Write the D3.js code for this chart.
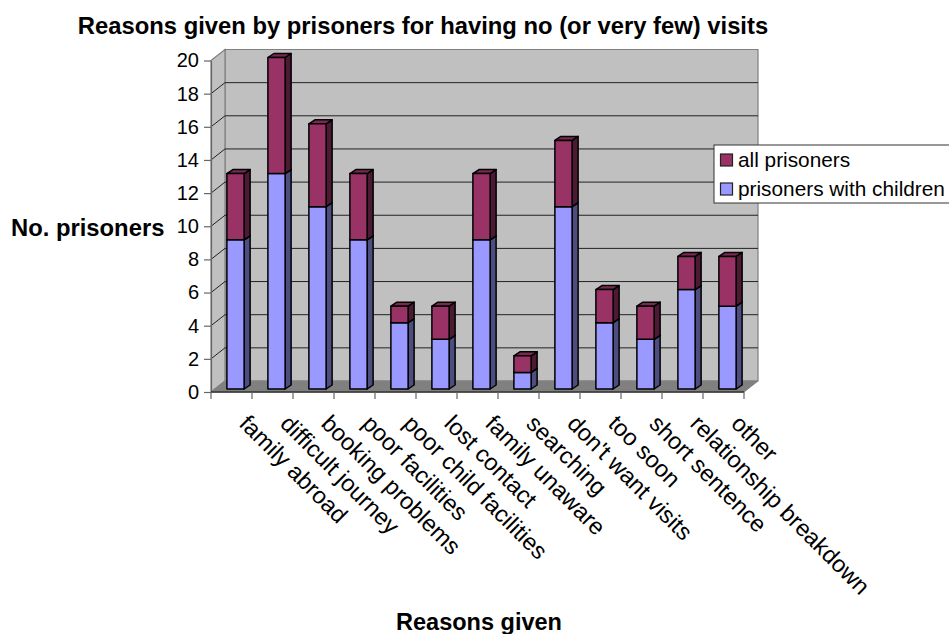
<!DOCTYPE html>
<html lang="en">
<head>
<meta charset="utf-8">
<title>Reasons given by prisoners</title>
<style>
html, body { margin: 0; background: #fff; }
svg { display: block; font-family: "Liberation Sans", Arial, sans-serif; }
text { fill: #000; }
</style>
</head>
<body>
<div id="app"></div>
<script src="https://d3js.org/d3.v7.min.js"></script>
<script>
const categories = ["family abroad", "difficult journey", "booking problems", "poor facilities",
  "poor child facilities", "lost contact", "family unaware", "searching", "don't want visits",
  "too soon", "short sentence", "relationship breakdown", "other"];
const withChildren = [9, 13, 11, 9, 4, 3, 9, 1, 11, 4, 3, 6, 5];
const allPrisoners = [4, 7, 5, 4, 1, 2, 4, 1, 4, 2, 2, 2, 3];
const yTicks = d3.range(0, 21, 2);

const width = 949, height = 634;
const wall = {dx: 14, dy: -11};   // depth of the side wall
const bar = {dx: 6, dy: -4};      // depth of each bar
const barShift = {dx: 4, dy: -3}; // bars stand slightly into the floor

const x = d3.scaleBand().domain(categories).range([211, 744]).paddingInner(0.58).paddingOuter(0.29);
const y = d3.scaleLinear().domain([0, 20]).range([392, 60.5]);
const xTicks = d3.scaleBand().domain(categories).range([211, 744]);

const rows = categories.map((name, i) => ({name, children: withChildren[i], all: allPrisoners[i]}));
const series = d3.stack().keys(["children", "all"])(rows);
const colors = {
  children: {front: "#9999ff", side: "#4d4d80", top: "#7a7acc"},
  all: {front: "#993366", side: "#4d1a33", top: "#7a2952"}
};

const svg = d3.select("#app").append("svg").attr("width", width).attr("height", height);
const x0 = 211, x1 = 744;
const poly = pts => pts.map(p => p.join(",")).join(" ");

// walls and floor
const walls = svg.append("g");
walls.append("polygon")
  .attr("points", poly([[x0 + wall.dx, y(20) + wall.dy], [x1 + wall.dx, y(20) + wall.dy], [x1 + wall.dx, y(0) + wall.dy], [x0 + wall.dx, y(0) + wall.dy]]))
  .attr("fill", "#c0c0c0").attr("stroke", "#808080").attr("stroke-width", 1.2);
walls.append("polygon")
  .attr("points", poly([[x0, y(20)], [x0 + wall.dx, y(20) + wall.dy], [x0 + wall.dx, y(0) + wall.dy], [x0, y(0)]]))
  .attr("fill", "#c0c0c0").attr("stroke", "#808080").attr("stroke-width", 1.2);
walls.append("polygon")
  .attr("points", poly([[x0, y(0)], [x0 + wall.dx, y(0) + wall.dy], [x1 + wall.dx, y(0) + wall.dy], [x1, y(0)]]))
  .attr("fill", "#808080").attr("stroke", "#808080");

// grid lines on both walls
const grid = svg.append("g").attr("stroke", "#222").attr("stroke-width", 1).attr("fill", "none");
yTicks.filter(d => d > 0 && d < 20).forEach(d => {
  grid.append("polyline")
    .attr("points", poly([[x0, y(d)], [x0 + wall.dx, y(d) + wall.dy], [x1 + wall.dx, y(d) + wall.dy]]));
});

// axes
const yAxis = d3.axisLeft(y).tickValues(yTicks).tickSize(7).tickPadding(5).tickSizeOuter(0);
const yg = svg.append("g").attr("transform", `translate(${x0},0)`).call(yAxis);
yg.selectAll("text").attr("font-size", 20).attr("font-family", "Liberation Sans");
yg.selectAll("line, path").attr("stroke", "#666").attr("stroke-width", 1.2);

const xg = svg.append("g").attr("transform", `translate(0,${y(0)})`);
xg.append("line").attr("x1", x0).attr("x2", x1).attr("stroke", "#333").attr("stroke-width", 1.5);
xg.selectAll(".tick").data(categories.concat([null])).join("line")
  .attr("class", "tick")
  .attr("x1", (d, i) => x0 + i * xTicks.step()).attr("x2", (d, i) => x0 + i * xTicks.step())
  .attr("y1", 0).attr("y2", 7).attr("stroke", "#666").attr("stroke-width", 1.2);

// stacked bars with side and top faces
series.forEach(s => {
  const c = colors[s.key];
  const g = svg.append("g").attr("stroke", "#000").attr("stroke-width", 1.5).attr("stroke-linejoin", "round");
  s.forEach(d => {
    const l = x(d.data.name) + barShift.dx, r = l + x.bandwidth();
    const t = y(d[1]) + barShift.dy, b = y(d[0]) + barShift.dy;
    g.append("polygon").attr("fill", c.side)
      .attr("points", poly([[r, t], [r + bar.dx, t + bar.dy], [r + bar.dx, b + bar.dy], [r, b]]));
    g.append("polygon").attr("fill", c.top)
      .attr("points", poly([[l, t], [l + bar.dx, t + bar.dy], [r + bar.dx, t + bar.dy], [r, t]]));
    g.append("rect").attr("fill", c.front)
      .attr("x", l).attr("y", t).attr("width", r - l).attr("height", b - t);
  });
});

// category labels
svg.append("g").selectAll("text").data(categories).join("text")
  .attr("transform", d => `translate(${xTicks(d) + 27},425) rotate(45)`)
  .attr("font-size", 23.5)
  .text(d => d);

// titles
svg.append("text").attr("x", 423).attr("y", 34).attr("text-anchor", "middle")
  .attr("font-size", 23.8).attr("font-weight", "bold")
  .text("Reasons given by prisoners for having no (or very few) visits");
svg.append("text").attr("x", 479).attr("y", 630).attr("text-anchor", "middle")
  .attr("font-size", 23.5).attr("font-weight", "bold").text("Reasons given");
svg.append("text").attr("x", 11).attr("y", 236)
  .attr("font-size", 23.8).attr("font-weight", "bold").text("No. prisoners");

// legend
const legendItems = [["all prisoners", "all"], ["prisoners with children", "children"]];
const legend = svg.append("g").attr("transform", "translate(714,145)");
legend.append("rect").attr("x", 0).attr("y", 0).attr("width", 240).attr("height", 58)
  .attr("fill", "#fff").attr("stroke", "#333").attr("stroke-width", 1);
legendItems.forEach(([label, key], i) => {
  legend.append("rect").attr("x", 6.5).attr("y", 9 + i * 29).attr("width", 12).attr("height", 12)
    .attr("fill", colors[key].front).attr("stroke", "#222").attr("stroke-width", 1.2);
  legend.append("text").attr("x", 24).attr("y", 22 + i * 29).attr("font-size", 20.8).text(label);
});
</script>
</body>
</html>
